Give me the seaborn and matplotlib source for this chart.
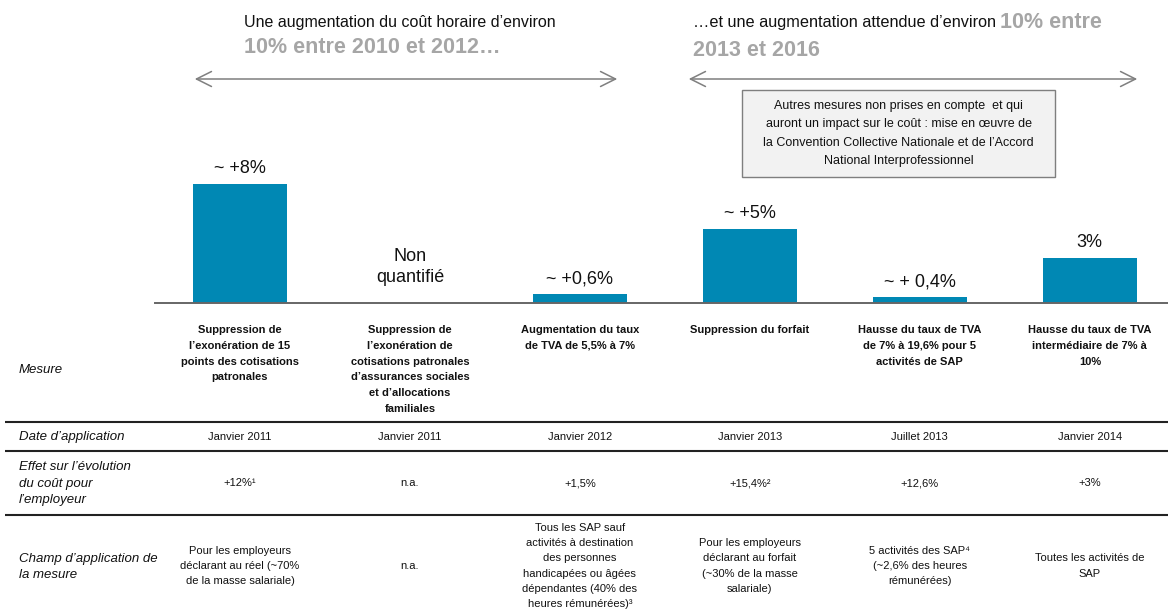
import matplotlib
matplotlib.use("Agg")
import matplotlib.pyplot as plt
import seaborn as sns
import pandas as pd
from matplotlib.transforms import blended_transform_factory
from matplotlib.patches import Rectangle

# === Data ===
mesures = [
    "Suppression de\nl’exonération de 15\npoints des cotisations\npatronales",
    "Suppression de\nl’exonération de\ncotisations patronales\nd’assurances sociales\net d’allocations\nfamiliales",
    "Augmentation du taux\nde TVA de 5,5% à 7%",
    "Suppression du forfait",
    "Hausse du taux de TVA\nde 7% à 19,6% pour 5\nactivités de SAP",
    "Hausse du taux de TVA\nintermédiaire de 7% à\n10%",
]
valeurs = [8, 0, 0.6, 5, 0.4, 3]
etiquettes = ["~ +8%", "Non\nquantifié", "~ +0,6%", "~ +5%", "~ + 0,4%", "3%"]
dates = ["Janvier 2011", "Janvier 2011", "Janvier 2012", "Janvier 2013", "Juillet 2013", "Janvier 2014"]
effets = ["+12%¹", "n.a.", "+1,5%", "+15,4%²", "+12,6%", "+3%"]
champs = [
    "Pour les employeurs\ndéclarant au réel (~70%\nde la masse salariale)",
    "n.a.",
    "Tous les SAP sauf\nactivités à destination\ndes personnes\nhandicapées ou âgées\ndépendantes (40% des\nheures rémunérées)³",
    "Pour les employeurs\ndéclarant au forfait\n(~30% de la masse\nsalariale)",
    "5 activités des SAP⁴\n(~2,6% des heures\nrémunérées)",
    "Toutes les activités de\nSAP",
]
lignes = ["Mesure", "Date d’application", "Effet sur l’évolution\ndu coût pour\nl’employeur",
          "Champ d’application de\nla mesure"]
titre_gauche = "Une augmentation du coût horaire d’environ"
titre_gauche_gras = "10% entre 2010 et 2012…"
titre_droite = "…et une augmentation attendue d’environ "
titre_droite_gras = "10% entre"
titre_droite_gras2 = "2013 et 2016"
encadre = ("Autres mesures non prises en compte  et qui\nauront un impact sur le coût : mise en œuvre de\n"
           "la Convention Collective Nationale et de l’Accord\nNational Interprofessionnel")

# === Setup ===
sns.set_theme(style="white")
plt.rcParams['font.family'] = ['Liberation Sans', 'DejaVu Sans']

W, H = 1168, 613
fig = plt.figure(figsize=(W / 100, H / 100), dpi=100)

# background axes in pixel coordinates
bg = fig.add_axes([0, 0, 1, 1])
bg.set_xlim(0, W)
bg.set_ylim(H, 0)
bg.axis('off')

# bar axes
base_px, top_px = 303, 150
ax = fig.add_axes([155 / W, 1 - base_px / H, (W - 155) / W, (base_px - top_px) / H])
df = pd.DataFrame({"mesure": mesures, "valeur": valeurs})
sns.barplot(data=df, x="mesure", y="valeur", color="#0088b4", saturation=1,
            width=0.55, linewidth=0, ax=ax)
ax.set_xlim(-0.5, 5.46)
ax.set_ylim(0, 8 * (base_px - top_px) / (base_px - 184))
ax.patch.set_visible(False)
for s in ["top", "right", "left"]:
    ax.spines[s].set_visible(False)
ax.spines["bottom"].set_color("#666666")
ax.spines["bottom"].set_linewidth(1.4)
ax.set_xticks([])
ax.set_yticks([])
ax.set_xlabel("")
ax.set_ylabel("")

for i, (v, lab) in enumerate(zip(valeurs, etiquettes)):
    ax.annotate(lab, xy=(i, v), xytext=(0, 5 if v > 0 else 12), textcoords="offset points",
                ha="center", va="bottom", fontsize=13, color="#111111", linespacing=1.35,
                annotation_clip=False)

# === Headers ===
gris = "#a6a6a6"
bg.text(244, 27, titre_gauche, fontsize=11.5, va="baseline", ha="left", color="#111111")
bg.text(244, 53, titre_gauche_gras, fontsize=15.5, fontweight="bold", va="baseline", ha="left", color=gris)
t1 = bg.text(693, 27, titre_droite, fontsize=11.7, va="baseline", ha="left", color="#111111")
bg.annotate(titre_droite_gras, xy=(1, 28), xycoords=(t1, "data"), fontsize=15.5, fontweight="bold",
            va="baseline", ha="left", color=gris)
bg.text(693, 56, titre_droite_gras2, fontsize=15.5, fontweight="bold", va="baseline", ha="left", color=gris)

arrow = dict(arrowstyle="<->,head_length=0.9,head_width=0.45", color="#7f7f7f", lw=1.1)
bg.annotate("", xy=(192, 79), xytext=(620, 79), arrowprops=arrow)
bg.annotate("", xy=(686, 79), xytext=(1140, 79), arrowprops=arrow)

bg.add_patch(Rectangle((742, 90), 313, 87, facecolor="#f2f2f2", edgecolor="#7f7f7f", lw=1))
bg.text(898.5, 133.5, encadre, fontsize=9, ha="center", va="center", linespacing=1.7, color="#111111")

# === Table ===
tr = blended_transform_factory(ax.transData, bg.transData)
for y in [422, 451, 515]:
    bg.plot([5, W], [y, y], color="#222222", lw=1.5, solid_capstyle="butt")

row_y = [370, 437, 484, 567]
for lab, y in zip(lignes, row_y):
    bg.text(19, y, lab, fontsize=9.5, style="italic", ha="left", va="center",
            linespacing=1.5, color="#111111")

for i in range(len(mesures)):
    bg.text(i, 325, mesures[i], transform=tr, fontsize=8, fontweight="bold", ha="center",
            va="top", linespacing=1.72, color="#111111")
    bg.text(i, 437, dates[i], transform=tr, fontsize=8, ha="center", va="center", color="#111111")
    bg.text(i, 483, effets[i], transform=tr, fontsize=8, ha="center", va="center", color="#111111")
    bg.text(i, 566, champs[i], transform=tr, fontsize=8, ha="center", va="center",
            linespacing=1.65, color="#111111")

fig.savefig("out.png", dpi=100)
